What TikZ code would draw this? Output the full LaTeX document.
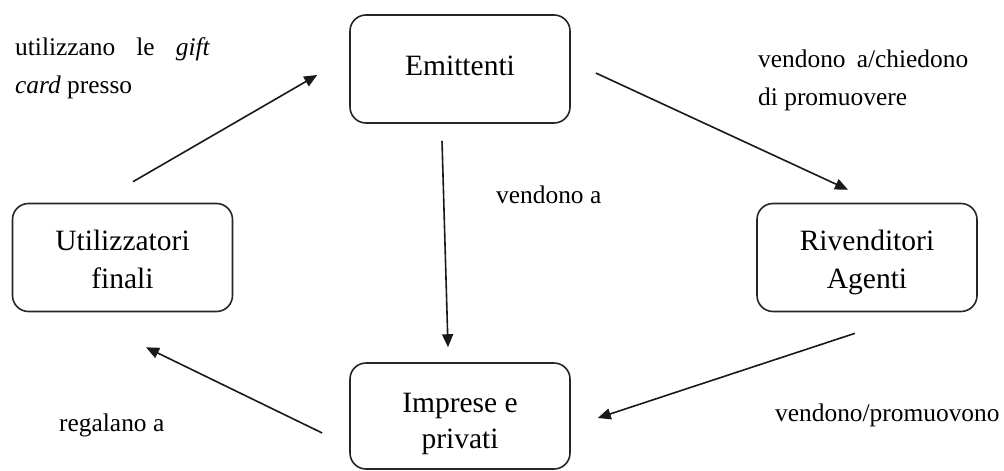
\documentclass[tikz,border=0pt]{standalone}
\usepackage{fontspec}
\setmainfont{Liberation Serif}
\usetikzlibrary{arrows.meta,calc}
\tikzset{
  box/.style={draw=black!85, line width=1.6pt, rounded corners=16pt,
    minimum width=220pt, minimum height=108pt, inner sep=0pt},
  boxtxt/.style={inner sep=0pt, anchor=base, align=center, text=black,
    font={\fontsize{29.5}{38}\selectfont}},
  lbl/.style={inner sep=0pt, anchor=base west, align=left, text=black,
    font={\fontsize{25.4}{38}\selectfont}},
  arr/.style={draw=black!90, line width=1.6pt, -{Triangle[length=13pt,width=11pt]}}
}
\begin{document}
\begin{tikzpicture}[x=1pt,y=-1pt]
\useasboundingbox (0,0) rectangle (1004,471);
% boxes
\node[box] (emit) at (460,69) {};
\node[box] (util) at (122.5,257.5) {};
\node[box] (riv) at (867,257.5) {};
\node[box, minimum height=106pt] (imp) at (460,416) {};
% box texts (base anchor = baseline of last line)
\node[boxtxt] (emitT) at (460,75) {Emittenti};
\node[boxtxt] (utilT) at (122.5,288) {Utilizzatori\\finali};
\node[boxtxt] (rivT) at (867,288) {Rivenditori\\Agenti};
\node[boxtxt, font={\fontsize{29.5}{36}\selectfont}] (impT) at (460,448) {Imprese e\\privati};
% labels
\node[lbl] (l1) at (15,93) {\makebox[195pt][s]{utilizzano\hfill le\hfill\textit{gift}}\\\textit{card} presso};
\node[lbl] (l2) at (758,105) {\makebox[210pt][s]{vendono\hfill a/chiedono}\\di promuovere};
\node[lbl] (l3) at (496,203) {vendono a};
\node[lbl] (l4) at (59,431) {regalano a};
\node[lbl] (l5) at (775,421) {vendono/promuovono};
% arrows
\draw[arr] ($(util.north)+(10.5,-21)$) -- ($(emit.west)+(-32,6)$);
\draw[arr] ($(emit.east)+(25,4)$) -- ($(riv.north)+(-19,-13)$);
\draw[arr] ($(emit.south)+(-18,17)$) -- ($(imp.north)+(-12,-15)$);
\draw[arr] ($(riv.south)+(-12,21)$) -- ($(imp.east)+(27,2)$);
\draw[arr] ($(imp.west)+(-27,17)$) -- ($(util.south)+(23.5,35)$);
\end{tikzpicture}
\end{document}
